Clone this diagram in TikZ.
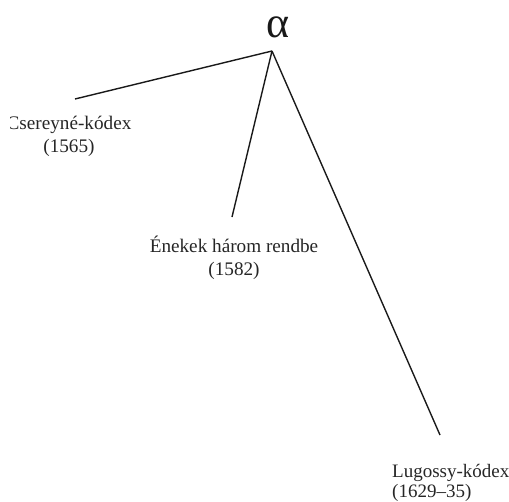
\documentclass[tikz,border=0pt]{standalone}
\usepackage{fontspec}
\setmainfont{Liberation Serif}
\begin{document}
\begin{tikzpicture}[x=1pt,y=-1pt,
  branch/.style={draw=black!90,line width=1.4pt},
  wit/.style={inner sep=0pt,font=\fontsize{19.2}{23}\selectfont,text=black!85,anchor=base},
  archetype/.style={inner sep=0pt,font=\fontsize{44}{44}\selectfont,text=black!90}]
  \useasboundingbox (0,0) rectangle (509,501);

  % archetype and branching point
  \node[archetype] (alpha) at (278,27) {α};
  \coordinate (root) at (272,51);

  % free ends of the branches
  \coordinate (endC) at (75,99);
  \coordinate (endE) at (232,217);
  \coordinate (endL) at (440,435);

  % witnesses (anchor = baseline of the last line)
  \begin{scope}
    \clip (10,0) rectangle (509,501);
    \node[wit,align=center] (csereyne) at (69,152) {Csereyné-kódex\\(1565)};
  \end{scope}
  \node[wit,align=center] (enekek) at (234,275) {Énekek három rendbe\\(1582)};
  \node[wit,align=left,anchor=base west,font=\fontsize{19}{20}\selectfont] (lugossy) at (392,497) {Lugossy-kódex\\(1629–35)};

  % stemma branches
  \draw[branch] (root) -- (endC);
  \draw[branch] (root) -- (endE);
  \draw[branch] (root) -- (endL);
\end{tikzpicture}
\end{document}
